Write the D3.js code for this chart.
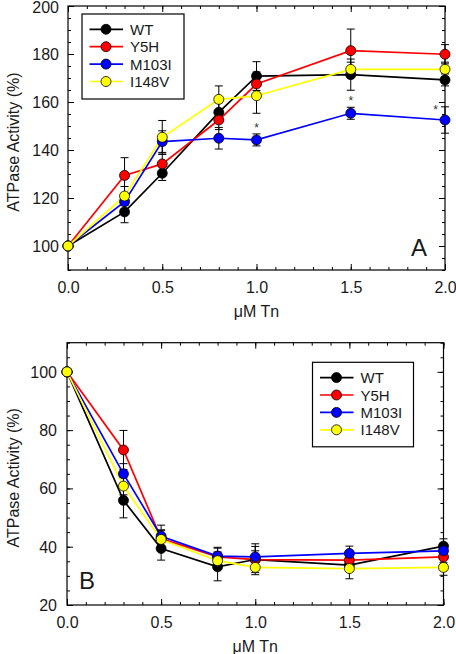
<!DOCTYPE html>
<html><head><meta charset="utf-8">
<script src="https://cdn.jsdelivr.net/npm/d3@7"></script>
<style>body{margin:0;background:#fff}svg{display:block}text{font-family:Arial,"Liberation Sans",sans-serif}</style>
</head><body>
<svg id="c" width="456" height="654"></svg>
<script>
const xValues = [0, 0.3, 0.5, 0.8, 1.0, 1.5, 2.0];
const seriesNames = ["WT", "Y5H", "M103I", "I148V"];
const seriesColors = ["#000000", "#ff0000", "#0000ff", "#ffff00"];
const xTicks = [0, 0.5, 1.0, 1.5, 2.0];

// Panel A values
const A_WT = [100, 114.2, 130.3, 155.7, 170.8, 171.4, 169.2];
const A_Y5H = [100, 129.4, 134.2, 152.5, 167.5, 181.4, 179.9];
const A_M103I = [100, 118.5, 143.5, 144.9, 144.2, 155.3, 152.5];
const A_I148V = [100, 120.8, 145.3, 161.1, 162.6, 173.6, 173.6];
const A_WT_err = [0, 4.5, 3, 4, 6, 6.5, 2.5];
const A_Y5H_err = [0, 7.4, 4, 4, 5, 9, 4];
const A_M103I_err = [0, 3, 4.5, 4.5, 2.5, 2.5, 5.5];
const A_I148V_err = [0, 4, 7, 5.6, 7.3, 3, 3];
const A_yTicks = [100, 120, 140, 160, 180, 200];
const A_stars = [{x: 1.0, y: 150}, {x: 1.5, y: 161.3}, {x: 1.95, y: 157.5}];

// Panel B values
const B_WT = [100, 55.9, 39.4, 33.1, 35.6, 33.7, 40.2];
const B_Y5H = [100, 73.2, 42.8, 36.5, 35.6, 35.4, 36.5];
const B_M103I = [100, 65.0, 43.6, 36.8, 36.5, 37.7, 38.6];
const B_I148V = [100, 60.8, 42.5, 35.2, 32.9, 32.5, 32.9];
const B_WT_err = [0, 6, 4, 4.8, 4.5, 2, 2.5];
const B_Y5H_err = [0, 6.7, 3, 3, 3, 3, 2];
const B_M103I_err = [0, 3.5, 3.8, 3, 4.5, 2.5, 2];
const B_I148V_err = [0, 3, 3, 3, 2.5, 3.5, 2.7];
const B_yTicks = [20, 40, 60, 80, 100];

const svg = d3.select("#c");
const TXT = "#1a1a1a";

function panel(cfg) {
  const x = d3.scaleLinear().domain([0, 2]).range([cfg.left, cfg.right]);
  const y = d3.scaleLinear().domain(cfg.yDomain).range([cfg.bottom, cfg.top]);
  const g = svg.append("g");
  g.append("rect").attr("x", cfg.left).attr("y", cfg.top)
    .attr("width", cfg.right - cfg.left).attr("height", cfg.bottom - cfg.top)
    .attr("fill", "none").attr("stroke", "#000").attr("stroke-width", 1.2);
  const xMinor = d3.range(0, 2.0001, 0.1);
  const yMinor = d3.range(cfg.yDomain[0], cfg.yDomain[1] + 0.001, 5);
  const ax = (gen, tr, ticks, size, labels) => {
    const a = g.append("g").attr("transform", tr)
      .call(gen.tickValues(ticks).tickSize(size).tickSizeOuter(0)
        .tickFormat(labels ? labels : () => ""));
    a.select(".domain").remove();
    a.selectAll("line").attr("stroke", "#000");
    return a;
  };
  ax(d3.axisBottom(x), `translate(0,${cfg.bottom})`, xMinor, -3);
  ax(d3.axisTop(x), `translate(0,${cfg.top})`, xMinor, -3);
  ax(d3.axisLeft(y), `translate(${cfg.left},0)`, yMinor, -3);
  ax(d3.axisRight(y), `translate(${cfg.right},0)`, yMinor, -3);
  const xb = ax(d3.axisBottom(x), `translate(0,${cfg.bottom})`, xTicks, -6, d3.format(".1f"));
  xb.selectAll("text").attr("y", 12).attr("font-size", 16).attr("fill", TXT);
  ax(d3.axisTop(x), `translate(0,${cfg.top})`, xTicks, -6);
  const yl = ax(d3.axisLeft(y), `translate(${cfg.left},0)`, cfg.yTicks, -6, d3.format("d"));
  yl.selectAll("text").attr("x", cfg.ylabX).attr("font-size", 16).attr("fill", TXT)
    .attr("dy", d => d === cfg.yDomain[1] ? "0.42em" : "0.34em");

  ax(d3.axisRight(y), `translate(${cfg.right},0)`, cfg.yTicks, -6);

  g.append("text").attr("x", (cfg.left + cfg.right) / 2).attr("y", cfg.bottom + 47)
    .attr("text-anchor", "middle").attr("font-size", 16).attr("fill", TXT).text("μM Tn");
  g.append("text").attr("transform", `translate(19,${(cfg.top + cfg.bottom) / 2 + 4}) rotate(-90)`)
    .attr("text-anchor", "middle").attr("font-size", 16).attr("fill", TXT).text("ATPase Activity (%)");

  const line = d3.line().x((d, i) => x(xValues[i])).y(d => y(d));
  cfg.series.forEach((s, k) => {
    g.append("path").attr("d", line(s.v)).attr("fill", "none")
      .attr("stroke", seriesColors[k]).attr("stroke-width", 1.7);
  });
  cfg.series.forEach((s, k) => {
    const eg = g.append("g").attr("stroke", "#000").attr("stroke-width", 1);
    s.v.forEach((v, i) => {
      const e = s.e[i];
      if (!e) return;
      const cx = x(xValues[i]);
      eg.append("line").attr("x1", cx).attr("x2", cx).attr("y1", y(v - e)).attr("y2", y(v + e));
      [v - e, v + e].forEach(w => eg.append("line").attr("x1", cx - 4).attr("x2", cx + 4).attr("y1", y(w)).attr("y2", y(w)));
    });
  });
  cfg.series.forEach((s, k) => {
    g.selectAll(null).data(s.v).enter().append("circle")
      .attr("cx", (d, i) => x(xValues[i])).attr("cy", d => y(d)).attr("r", 5)
      .attr("fill", seriesColors[k]).attr("stroke", "#000").attr("stroke-width", 0.8);
  });
  (cfg.stars || []).forEach(s => {
    g.append("text").attr("x", x(s.x)).attr("y", y(s.y) + 6).attr("text-anchor", "middle")
      .attr("font-size", 12).attr("fill", "#333").text("*");
  });
  const L = cfg.legend;
  g.append("rect").attr("x", L.x).attr("y", L.y).attr("width", L.w).attr("height", L.h)
    .attr("fill", "#fff").attr("stroke", "#000").attr("stroke-width", 1.2);
  seriesNames.forEach((n, k) => {
    const yy = L.y + 15.3 + k * 17.4;
    g.append("line").attr("x1", L.x + 7.5).attr("x2", L.x + 41).attr("y1", yy).attr("y2", yy)
      .attr("stroke", seriesColors[k]).attr("stroke-width", 1.7);
    g.append("circle").attr("cx", L.x + 24).attr("cy", yy).attr("r", 5)
      .attr("fill", seriesColors[k]).attr("stroke", "#000").attr("stroke-width", 0.8);
    g.append("text").attr("x", L.x + 48).attr("y", yy + 5.5).attr("font-size", 15).attr("fill", TXT).text(n);
  });
  g.append("text").attr("x", cfg.letter.x).attr("y", cfg.letter.y).attr("font-size", 24)
    .attr("fill", TXT).text(cfg.letter.t);
}

panel({
  left: 68, right: 445, top: 6, bottom: 270, yDomain: [90, 200], yTicks: A_yTicks, ylabX: -9,
  series: [
    {v: A_WT, e: A_WT_err}, {v: A_Y5H, e: A_Y5H_err},
    {v: A_M103I, e: A_M103I_err}, {v: A_I148V, e: A_I148V_err}
  ],
  stars: A_stars,
  legend: {x: 82, y: 14, w: 102, h: 85},
  letter: {x: 411, y: 256, t: "A"}
});
panel({
  left: 67, right: 443.5, top: 342.7, bottom: 605, yDomain: [20, 110], yTicks: B_yTicks, ylabX: -10,
  series: [
    {v: B_WT, e: B_WT_err}, {v: B_Y5H, e: B_Y5H_err},
    {v: B_M103I, e: B_M103I_err}, {v: B_I148V, e: B_I148V_err}
  ],
  legend: {x: 312.5, y: 362.3, w: 101, h: 84.5},
  letter: {x: 79, y: 589, t: "B"}
});
</script>
</body></html>
